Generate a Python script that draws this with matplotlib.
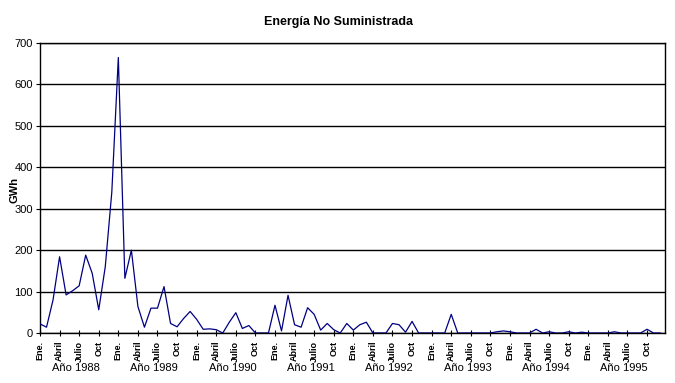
"""Energía No Suministrada, monthly 1988-1995."""

import matplotlib

matplotlib.use("Agg")
import matplotlib.pyplot as plt

plt.rcParams["font.family"] = ["Liberation Sans", "DejaVu Sans"]

# monthly energy not supplied, GWh, Jan 1988 .. Dec 1995
gwh = [
    22, 14, 80, 184, 92, 102, 114, 188, 144, 56, 160, 340,      # 1988
    665, 132, 200, 64, 14, 60, 60, 112, 23, 15, 35, 52,         # 1989
    33, 9, 10, 8, 0, 26, 49, 11, 18, 0, 0, 0,                   # 1990
    67, 5, 91, 20, 14, 61, 45, 7, 23, 8, 0, 23,                 # 1991
    7, 20, 26, 0, 0, 0, 23, 20, 2, 28, 0, 0,                    # 1992
    0, 0, 0, 45, 0, 0, 0, 0, 0, 0, 3, 5,                        # 1993
    3, 0, 0, 0, 9, 0, 3, 0, 0, 3, 0, 2,                         # 1994
    0, 0, 0, 0, 3, 0, 0, 0, 0, 9, 0, 0,                         # 1995
]
month_labels = ["Ene.", "Abril", "Julio", "Oct"]
years = ["Año 1988", "Año 1989", "Año 1990", "Año 1991",
         "Año 1992", "Año 1993", "Año 1994", "Año 1995"]
y_ticks = [0, 100, 200, 300, 400, 500, 600, 700]

fig = plt.figure(figsize=(6.75, 3.83), dpi=100)
ax = fig.add_axes([40 / 675, 50 / 383, 625 / 675, 290 / 383])

ax.plot(range(len(gwh)), gwh, color="#000080", lw=0.9, zorder=3)

ax.set_xlim(0, len(gwh) - 0.25)
ax.set_ylim(0, 700)
ax.set_yticks(y_ticks)
ax.set_yticklabels([str(v) for v in y_ticks], fontsize=8)
ax.yaxis.grid(True, color="black", lw=1.0)
ax.set_axisbelow(True)

xt = list(range(0, len(gwh), 3))
ax.set_xticks(xt)
ax.set_xticklabels([month_labels[(i // 3) % 4] for i in xt],
                   rotation=90, fontsize=6.5, fontweight="bold")
ax.tick_params(axis="x", direction="inout", length=5, width=0.8, pad=3)
ax.tick_params(axis="y", direction="out", length=3, width=0.8, pad=2)

for s in ax.spines.values():
    s.set_color("black")
    s.set_linewidth(1.0)

xtr = ax.get_xaxis_transform()
for k, name in enumerate(years):
    ax.text(12 * k + 5.5, -0.122, name, transform=xtr, ha="center",
            va="center", fontsize=8)

fig.text(338 / 675, 1 - 22 / 383, "Energía No Suministrada", ha="center",
         va="center", fontsize=9, fontweight="bold")
fig.text(15 / 675, 1 - 190 / 383, "GWh", rotation=90, ha="center",
         va="center", fontsize=8, fontweight="bold")

fig.savefig("out.png", dpi=100)
